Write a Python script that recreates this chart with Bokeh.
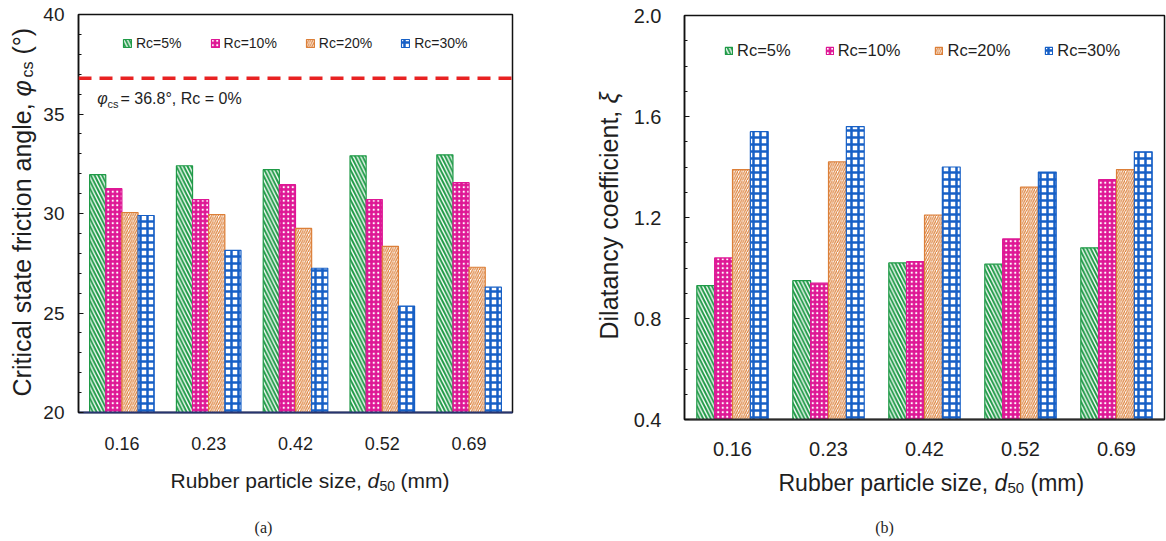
import numpy as np
from bokeh.plotting import figure
from bokeh.layouts import row, column
from bokeh.models import (ColumnDataSource, FactorRange, Range1d, Span, Label, Legend,
                          LegendItem, FixedTicker, PrintfTickFormatter)
from bokeh.transform import dodge
from bokeh.core.properties import value
from bokeh.embed import file_html
from bokeh.resources import INLINE

# ---------------- data ----------------
sizes = ["0.16", "0.23", "0.42", "0.52", "0.69"]
series = ["Rc=5%", "Rc=10%", "Rc=20%", "Rc=30%"]

# (a) critical state friction angle (deg)
phi_rc5 = [31.95, 32.4, 32.2, 32.9, 32.95]
phi_rc10 = [31.25, 30.7, 31.45, 30.7, 31.55]
phi_rc20 = [30.05, 29.95, 29.25, 28.35, 27.3]
phi_rc30 = [29.9, 28.15, 27.25, 25.35, 26.3]
phi_rc0 = 36.8

# (b) dilatancy coefficient
xi_rc5 = [0.93, 0.95, 1.02, 1.015, 1.08]
xi_rc10 = [1.04, 0.94, 1.025, 1.115, 1.35]
xi_rc20 = [1.39, 1.42, 1.21, 1.32, 1.39]
xi_rc30 = [1.54, 1.56, 1.40, 1.38, 1.46]

phi_ticks = [20, 25, 30, 35, 40]
xi_ticks = [0.4, 0.8, 1.2, 1.6, 2.0]

# ---------------- styles ----------------
GREEN = "#1f9a47"
MAGENTA = "#de1795"
ORANGE = "#dc7f38"
BLUE = "#1760c6"
RED = "#e82222"
TXT = "#1e1e1e"
FONT = "Liberation Sans"

styles = [
    dict(fill_color="white", line_color=GREEN, hatch_pattern=value("left_diagonal_line"),
         hatch_color=GREEN, hatch_scale=7.5, hatch_weight=2),
    dict(fill_color=MAGENTA, line_color=MAGENTA, hatch_pattern=value("dot"),
         hatch_color="white", hatch_scale=4.5, hatch_weight=1),
    dict(fill_color="white", line_color=ORANGE, hatch_pattern=value("right_diagonal_line"),
         hatch_color=ORANGE, hatch_scale=4.5, hatch_weight=1.2),
    dict(fill_color="white", line_color=BLUE, hatch_pattern=value("cross"),
         hatch_color=BLUE, hatch_scale=7, hatch_weight=2.5),
]
offsets = [-0.279, -0.093, 0.093, 0.279]
BAR_W = 0.186


def lab(p, x, y, text, size, angle=0.0, style="normal", align="left", font=FONT, color=TXT):
    p.add_layout(Label(x=x, y=y, x_units="screen", y_units="screen", text=text, angle=angle,
                       text_font_size=f"{size}px", text_font=font, text_font_style=style,
                       text_align=align, text_baseline="middle", text_color=color))


def strip(width, height):
    s = figure(width=width, height=height, x_range=Range1d(0, 1), y_range=Range1d(0, 1),
               x_axis_type=None, y_axis_type=None, output_backend="svg",
               toolbar_location=None, min_border=0)
    s.min_border_left = s.min_border_right = s.min_border_top = s.min_border_bottom = 0
    s.outline_line_color = None
    s.grid.visible = False
    s.background_fill_color = "white"
    s.border_fill_color = "white"
    return s


def make_fig(width, height, yr, bl, br, bt, bb, ticks, minor, xline, tick_fs_x, tick_fs_y,
             y_standoff, x_standoff):
    p = figure(width=width, height=height, x_range=FactorRange(*sizes, range_padding=0),
               y_range=Range1d(*yr), output_backend="svg", toolbar_location=None,
               min_border_left=bl, min_border_right=br, min_border_top=bt, min_border_bottom=bb)
    p.grid.visible = False
    p.outline_line_color = "#111111"
    p.outline_line_width = 1.5
    p.background_fill_color = "white"
    p.border_fill_color = "white"
    p.xaxis.axis_line_color = xline
    p.xaxis.axis_line_width = 2
    p.xaxis.major_tick_line_color = None
    p.xaxis.minor_tick_line_color = None
    p.xaxis.major_label_text_font = FONT
    p.xaxis.major_label_text_font_size = f"{tick_fs_x}px"
    p.xaxis.major_label_text_color = TXT
    p.xaxis.major_label_standoff = x_standoff
    p.yaxis.ticker = FixedTicker(ticks=ticks, minor_ticks=minor)
    p.yaxis.axis_line_color = "#111111"
    p.yaxis.axis_line_width = 1.5
    p.yaxis.major_tick_in = 5
    p.yaxis.major_tick_out = 0
    p.yaxis.minor_tick_in = 3
    p.yaxis.minor_tick_out = 0
    p.yaxis.major_tick_line_color = "#111111"
    p.yaxis.minor_tick_line_color = "#111111"
    p.yaxis.major_label_text_font = FONT
    p.yaxis.major_label_text_font_size = f"{tick_fs_y}px"
    p.yaxis.major_label_text_color = TXT
    p.yaxis.major_label_standoff = y_standoff
    return p


def add_bars(p, vals, bottom):
    data = {"size": sizes}
    for i, v in enumerate(vals):
        data[f"s{i}"] = v
    src = ColumnDataSource(data)
    rs = []
    for i, st in enumerate(styles):
        r = p.vbar(x=dodge("size", offsets[i], range=p.x_range), top=f"s{i}", bottom=bottom,
                   width=BAR_W, source=src, line_width=1.2, **st)
        rs.append(r)
    return rs


def add_legend(p, rs, loc, fs, glyph, spacing):
    leg = Legend(items=[LegendItem(label=s, renderers=[r]) for s, r in zip(series, rs)],
                 orientation="horizontal", location=loc, glyph_width=glyph, glyph_height=glyph,
                 label_standoff=4, spacing=spacing, padding=0, margin=0,
                 border_line_color=None, background_fill_alpha=0,
                 label_text_font=FONT, label_text_font_size=f"{fs}px",
                 label_text_color=TXT, label_height=int(round(fs)))
    p.add_layout(leg)


ROT = np.pi / 2

# ---------------- (a) ----------------
HA = 460
ya_strip = strip(38, HA)
pa = make_fig(542, HA, (20, 40), 40, 68, 14, HA - 412, phi_ticks, list(range(20, 41)),
              "#27346e", 18, 19, 14, 18)
ra = add_bars(pa, [phi_rc5, phi_rc10, phi_rc20, phi_rc30], 20)
pa.add_layout(Span(location=phi_rc0, dimension="width", line_color=RED, line_width=3.5,
                   line_dash="13 8"))
add_legend(pa, ra, (44, 361), 14, 10, 28)

lab(pa, 18.7, 314, "φ", 16, style="italic")
lab(pa, 29, 309, "cs", 11)
lab(pa, 42, 314, "= 36.8°, Rc = 0%", 16)

# y label (a): strip frame is aligned with the plot frame (bottom at canvas y 412)
lab(ya_strip, 21, 16, "Critical state friction angle, ", 25, angle=ROT)
lab(ya_strip, 21, 316, "φ", 25, angle=ROT, style="italic")
lab(ya_strip, 27, 335, "cs", 16, angle=ROT)
lab(ya_strip, 21, 358, "(°)", 25, angle=ROT)

bot_a = strip(580, 541 - HA)
lab(bot_a, 170, 61, "Rubber particle size, ", 21)
lab(bot_a, 367, 61, "d", 21, style="italic")
lab(bot_a, 379, 56, "50", 14)
lab(bot_a, 400, 61, "(mm)", 21)
lab(bot_a, 263, 14, "(a)", 16, align="center", font="Liberation Serif")

col_a = column(row(ya_strip, pa, spacing=0), bot_a, spacing=0)

# ---------------- (b) ----------------
HB = 465
yb_strip = strip(50, HB)
xi_minor = [round(0.4 + 0.1 * i, 2) for i in range(17)]
pb = make_fig(536, HB, (0.4, 2.0), 54, 2, 15, HB - 419, xi_ticks, xi_minor,
              "#2a2a2a", 20, 20, 23, 16)
pb.yaxis.formatter = PrintfTickFormatter(format="%.1f")
rb = add_bars(pb, [xi_rc5, xi_rc10, xi_rc20, xi_rc30], 0.4)
add_legend(pb, rb, (40, 359), 16.5, 9, 34)

# y label (b): strip frame bottom at canvas y 419
lab(yb_strip, 28, 80, "Dilatancy coefficient, ", 25, angle=ROT)
lab(yb_strip, 28, 316, "ξ", 25, angle=ROT, style="italic")

bot_b = strip(586, 541 - HB)
lab(bot_b, 198, 59, "Rubber particle size, ", 23)
lab(bot_b, 414, 59, "d", 23, style="italic")
lab(bot_b, 427, 54, "50", 15)
lab(bot_b, 450, 59, "(mm)", 23)
lab(bot_b, 304, 14, "(b)", 16, align="center", font="Liberation Serif")

col_b = column(row(yb_strip, pb, spacing=0), bot_b, spacing=0)

layout = row(col_a, col_b, spacing=0)
open("out.html", "w").write(file_html(layout, INLINE))
